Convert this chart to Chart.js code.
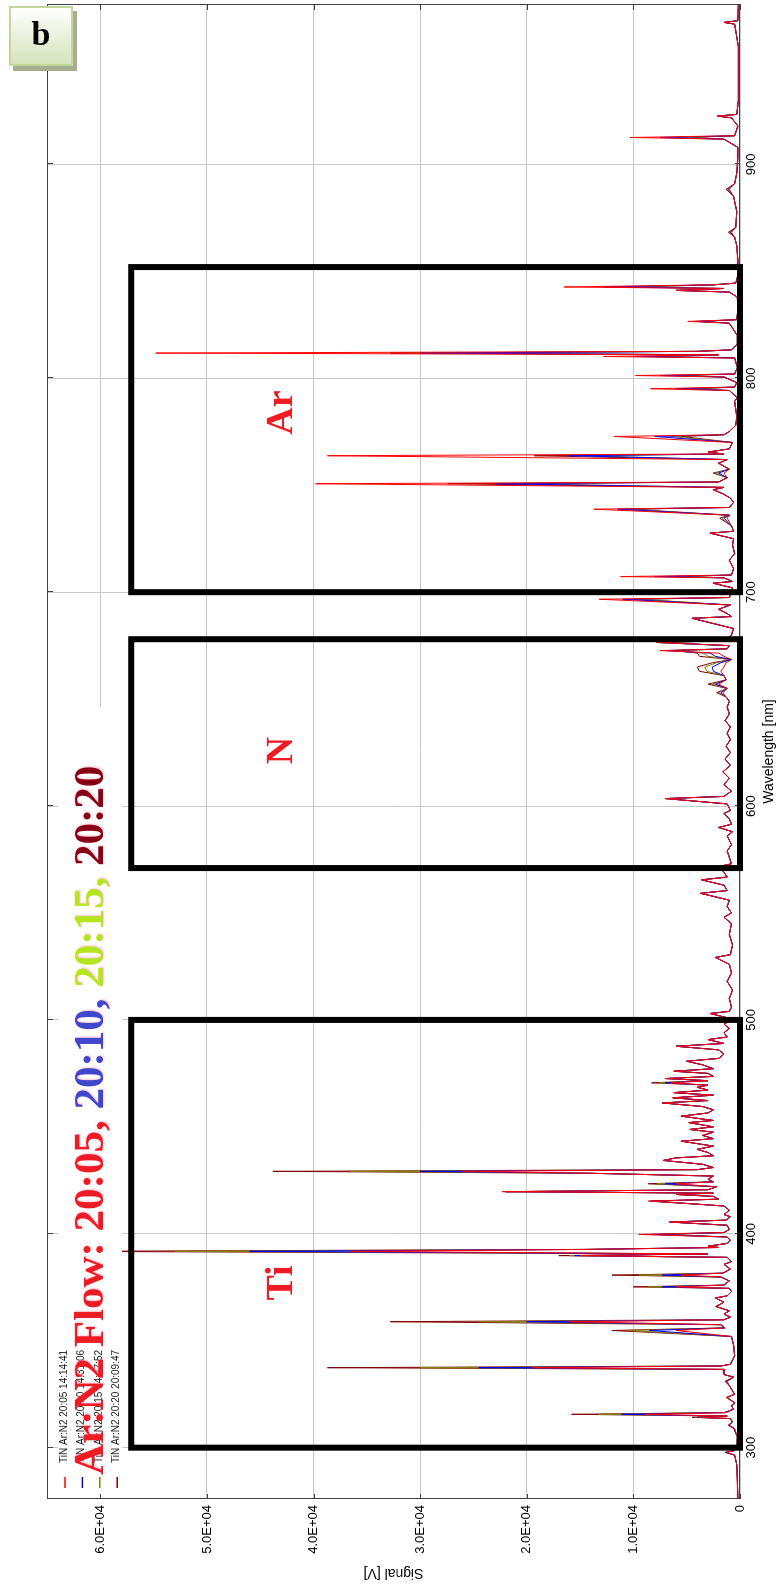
<!DOCTYPE html>
<html>
<head>
<meta charset="utf-8">
<script src="https://cdn.jsdelivr.net/npm/chart.js@4.4.1/dist/chart.umd.min.js"></script>
<style>
  html, body { margin: 0; padding: 0; background: #fff; }
  #page { position: relative; width: 779px; height: 1586px; overflow: hidden; background: #fff; }
  /* the spectrum is drawn the normal way and turned a quarter left, like the figure */
  #turn { position: absolute; left: 0; top: 0; width: 1586px; height: 779px;
          transform-origin: 0 0; transform: translateY(1586px) rotate(-90deg); }
  #tag { position: absolute; left: 9px; top: 6px; width: 60px; height: 56px;
         border: 2px solid #c4d79b; background: linear-gradient(#ffffff, #d6e3bc);
         box-shadow: 4px 5px 0 #a9ad8f; text-align: center;
         font: bold 34px "Liberation Serif", "Times New Roman", serif; line-height: 52px; color: #000; }
</style>
</head>
<body>
<div id="page">
  <div id="turn"><canvas id="spectrum" width="1586" height="779"></canvas></div>
  <div id="tag">b</div>
</div>
<script>
// wavelength [nm], shared by all four runs
const wavelength = [
  276, 285, 292, 296.5, 297.8, 298.6, 300,
  305, 309, 310.5, 312, 313.6, 314.2, 314.8, 315.6, 316.4, 318, 319.5, 321, 323.5, 325, 329, 331, 333, 334.2, 336.6, 337.4, 338.2, 339,
  343, 348, 352, 354.8, 356, 357.5, 358.9, 359.8, 361, 362.5, 364, 366, 368, 370, 371, 373, 374.5, 375.2, 376, 378, 379.8, 380.7, 381.6, 383.5, 385.7, 387, 389, 389.8, 390.6, 391.8, 392.7, 393.6, 394.2, 395.5, 397, 398.5, 399.7,
  400.6, 402, 404, 405.5, 406.4, 408, 409, 411, 413, 415.3, 416.2, 417.5, 418.4, 419, 419.7, 420.6, 422, 423.4, 424.3, 425.5, 427, 428.3, 429.2, 430, 431, 432.5, 434.3, 435.5, 436.5, 438, 439.5,
  441, 443.3, 444.5, 446, 447.5, 448.8, 450, 452, 453, 455, 456.5, 458, 459.5, 461.2, 462.3, 463.6, 464.8, 466, 467.2, 468.5, 469.5, 470.6, 471.6, 472.6, 473.6, 475, 476, 477.2, 479, 480.7, 482, 484, 486, 487.7, 489, 490.8, 492, 494, 496, 498, 499.5,
  501, 503, 504, 506, 510, 514, 518, 522, 526, 529.2, 530.5, 535, 540, 545, 548, 550, 553, 556, 559.2, 560.5, 563, 565.5, 566.8, 569, 571.7,
  573, 576, 579, 582, 586, 588, 590, 591.5, 594, 596.5, 598, 601, 603.5, 604.5, 607, 610, 613, 616, 619, 622, 625, 628, 631, 634, 637, 640, 643, 646.3, 649, 651,
  653, 655, 657, 659, 661, 663, 665, 667, 668.5, 670, 671.5, 672.7, 673.5, 675, 676.5, 677.3, 680, 683, 687.8, 688.6, 690, 692, 694, 696.7, 697.5, 700,
  702, 704.2, 705, 706.7, 707.3, 708, 711, 715, 718, 722, 725, 727.6, 728.5, 731, 734.6, 736, 738.8, 739.6, 742, 744, 746, 747.9, 749, 750.7, 751.5, 753.5, 755.7, 757.5, 760.3, 762, 763.8, 764.6, 765.5, 767, 770, 772.8, 773.6, 775.1, 778,
  782, 789.2, 791, 794.3, 795.1, 795.9, 798, 800.6, 801.3, 802, 805, 809.5, 810.2, 811, 811.8, 812.6, 813.3, 816, 820, 825.8, 826.6, 827.4, 832, 838, 840.3, 841.1, 842, 842.7, 843.7, 844.5, 848, 855, 862, 866, 868.3, 870.5, 878, 885, 888.4, 891, 896, 903, 908, 911.8, 912.6, 913.4, 918, 921.8, 922.6, 923.4, 930, 945, 955, 965.6, 966.4, 967.2, 975
];

// signal [V] for Ar:N2 20:05 (red)
const flow2005 = [
  200, 250, 300, 500, 1200, 600, 300,
  250, 500, 1000, 700, 900, 3800, 1200, 8900, 1300, 600, 800, 500, 1200, 500, 1000, 1200, 600, 1500, 1400, 19500, 1800, 900,
  500, 600, 800, 6000, 1400, 1800, 16000, 1500, 900, 1500, 1000, 2200, 1500, 2300, 1200, 800, 1000, 6000, 1500, 1000, 1800, 5500, 1600, 900, 1500, 800, 1200, 15000, 3000, 36500, 14200, 2000, 3000, 1200, 900, 1200, 9500,
  1500, 1000, 1200, 6600, 1300, 900, 1500, 1000, 1500, 8600, 2000, 2500, 6000, 2500, 22300, 3000, 2200, 6000, 2500, 3000, 2500, 14000, 26000, 4000, 2500, 3500, 7200, 6000, 2500, 3000, 4000,
  2500, 5500, 2500, 3500, 2500, 4700, 2500, 4800, 2500, 5500, 3000, 2500, 3500, 7300, 3000, 6300, 2500, 6200, 3000, 4000, 3000, 6500, 3000, 7000, 2500, 3000, 6200, 2500, 3500, 5000, 2000, 1500, 2000, 6000, 1500, 3000, 1200, 1500, 1000, 1500, 1000,
  1200, 2800, 1000, 800, 1000, 700, 1200, 800, 1000, 2300, 900, 700, 1000, 800, 1500, 800, 1200, 1000, 3700, 1200, 1500, 3600, 1200, 1500, 2000,
  800, 1000, 1200, 800, 1200, 700, 2000, 800, 1000, 1500, 900, 1200, 7000, 1500, 800, 1500, 1000, 1600, 900, 1400, 900, 1300, 900, 1200, 900, 1400, 1000, 1200, 1000, 1300,
  1600, 1200, 2000, 1300, 1500, 1800, 1500, 1300, 800, 1500, 2000, 7500, 1200, 1000, 7800, 1200, 800, 600, 4500, 800, 1200, 2000, 900, 13200, 1000, 800,
  700, 2500, 700, 1500, 11200, 800, 600, 1000, 500, 700, 600, 2800, 600, 800, 1200, 1000, 13700, 1000, 600, 900, 1600, 2500, 1500, 39800, 2000, 1200, 1500, 1000, 2000, 1200, 38700, 1500, 3000, 1000, 700, 11800, 1500, 1000, 400,
  300, 500, 250, 1000, 8400, 500, 300, 1500, 9800, 500, 250, 500, 12800, 2000, 54800, 4000, 800, 250, 250, 1000, 4900, 300, 200, 250, 1000, 6000, 1500, 16500, 2500, 400, 200, 200, 300, 500, 800, 400, 300, 600, 1000, 500, 300, 200, 200, 1500, 10300, 500, 200, 800, 2100, 300, 150, 150, 150, 500, 1500, 200, 150
];

// signal [V] for Ar:N2 20:10 (blue)
const flow2010 = [
  200, 250, 300, 500, 1300, 600, 300,
  250, 550, 1050, 700, 900, 4000, 1200, 11100, 1400, 600, 800, 500, 1200, 500, 1000, 1300, 600, 1500, 1500, 24500, 1800, 900,
  500, 600, 800, 8500, 1400, 1800, 20000, 1500, 900, 1500, 1000, 2200, 1500, 2300, 1200, 800, 1000, 7300, 1500, 1000, 1800, 7300, 1600, 900, 1500, 800, 1200, 15500, 3000, 46000, 14200, 2000, 3000, 1200, 900, 1200, 8500,
  1500, 1000, 1200, 6600, 1300, 900, 1500, 1000, 1500, 8400, 2000, 2500, 6000, 2500, 22000, 3000, 2200, 7000, 2500, 3000, 2500, 14000, 30000, 4000, 2500, 3500, 7200, 6000, 2500, 3000, 4000,
  2500, 5500, 2500, 3500, 2500, 4700, 2500, 4800, 2500, 5500, 3000, 2500, 3500, 7300, 3000, 6300, 2500, 6200, 3000, 4000, 3000, 7000, 3000, 7000, 2500, 3000, 6200, 2500, 3500, 5000, 2000, 1500, 2000, 6000, 1500, 3000, 1200, 1500, 1000, 1500, 1000,
  1200, 2800, 1000, 800, 1000, 700, 1200, 800, 1000, 2300, 900, 700, 1000, 800, 1500, 800, 1200, 1000, 3700, 1200, 1500, 3600, 1200, 1500, 2000,
  800, 1000, 1200, 800, 1200, 700, 2000, 800, 1000, 1500, 900, 1200, 7000, 1500, 800, 1500, 1000, 1600, 900, 1400, 900, 1300, 900, 1200, 900, 1400, 1000, 1200, 1000, 1300,
  1800, 1200, 2300, 1300, 1500, 2500, 2600, 1800, 800, 2300, 2800, 7000, 1200, 1000, 7800, 1200, 800, 600, 4500, 800, 1200, 2000, 900, 11000, 1000, 800,
  700, 2500, 700, 1500, 8000, 800, 600, 1000, 500, 700, 600, 2800, 600, 800, 1500, 1000, 11500, 1000, 600, 900, 1600, 2500, 1500, 22900, 2000, 1200, 2000, 1000, 2000, 1200, 16000, 1500, 3000, 1000, 700, 8000, 1500, 1000, 400,
  300, 500, 250, 1000, 6000, 500, 300, 1500, 7500, 500, 250, 500, 10000, 2000, 30000, 4000, 800, 250, 250, 1000, 4200, 300, 200, 250, 1000, 6000, 1500, 12800, 2500, 400, 200, 200, 300, 500, 900, 400, 300, 600, 1100, 500, 300, 200, 200, 1500, 7500, 500, 200, 800, 2100, 300, 150, 150, 150, 500, 1500, 200, 150
];

// signal [V] for Ar:N2 20:15 (olive)
const flow2015 = [
  200, 250, 300, 500, 1300, 600, 300,
  250, 550, 1100, 700, 900, 4200, 1200, 13300, 1400, 600, 800, 500, 1300, 500, 1000, 1300, 600, 1500, 1500, 30000, 1800, 900,
  500, 600, 800, 10500, 1400, 1800, 24500, 1500, 900, 1500, 1000, 2300, 1500, 2300, 1200, 800, 1000, 8600, 1500, 1000, 1800, 9500, 1600, 900, 1500, 800, 1200, 16000, 3000, 53000, 14500, 2000, 3000, 1200, 900, 1200, 7800,
  1500, 1000, 1200, 6600, 1300, 900, 1500, 1000, 1500, 8200, 2000, 2500, 6000, 2500, 21800, 3000, 2200, 7800, 2500, 3000, 2500, 14000, 36500, 4000, 2500, 3500, 7200, 6000, 2500, 3000, 4000,
  2500, 5500, 2500, 3500, 2500, 4700, 2500, 4800, 2500, 5500, 3000, 2500, 3500, 7300, 3000, 6300, 2500, 6200, 3000, 4000, 3000, 7600, 3000, 7000, 2500, 3000, 6200, 2500, 3500, 5000, 2000, 1500, 2000, 6000, 1500, 3000, 1200, 1500, 1000, 1500, 1000,
  1200, 2800, 1000, 800, 1000, 700, 1200, 800, 1000, 2300, 900, 700, 1000, 800, 1500, 800, 1200, 1000, 3700, 1200, 1500, 3600, 1200, 1500, 2000,
  800, 1000, 1200, 800, 1200, 700, 2000, 800, 1000, 1500, 900, 1200, 7000, 1500, 800, 1500, 1000, 1600, 900, 1400, 900, 1300, 900, 1200, 900, 1400, 1000, 1200, 1000, 1300,
  2000, 1200, 2600, 1300, 1500, 3100, 3300, 2200, 800, 3000, 3400, 6500, 1200, 1000, 7800, 1200, 800, 600, 4500, 800, 1200, 2000, 900, 10000, 1000, 800,
  700, 2500, 700, 1500, 6500, 800, 600, 1000, 500, 700, 600, 2800, 600, 800, 1700, 1000, 10800, 1000, 600, 900, 1600, 2500, 1500, 20500, 2000, 1200, 2300, 1000, 2000, 1200, 15000, 1500, 3000, 1000, 700, 6500, 1500, 1000, 400,
  300, 500, 250, 1000, 5000, 500, 300, 1500, 6500, 500, 250, 500, 9000, 2000, 31000, 4000, 800, 250, 250, 1000, 4000, 300, 200, 250, 1000, 6000, 1500, 11000, 2500, 400, 200, 200, 300, 500, 1000, 400, 300, 600, 1200, 500, 300, 200, 200, 1500, 6000, 500, 200, 800, 2100, 300, 150, 150, 150, 500, 1500, 200, 150
];

// signal [V] for Ar:N2 20:20 (dark red)
const flow2020 = [
  200, 250, 300, 500, 1400, 600, 300,
  250, 600, 1100, 700, 900, 4500, 1200, 15800, 1500, 600, 800, 500, 1300, 500, 1000, 1400, 600, 1500, 1600, 38700, 1800, 900,
  500, 600, 800, 12000, 1400, 1800, 32800, 1500, 900, 1500, 1000, 2300, 1500, 2300, 1200, 800, 1000, 10000, 1500, 1000, 1800, 12000, 1600, 900, 1500, 800, 1200, 17000, 3000, 63900, 14800, 2000, 3000, 1200, 900, 1200, 6700,
  1500, 1000, 1200, 6600, 1300, 900, 1500, 1000, 1500, 8000, 2000, 2500, 6000, 2500, 22000, 3000, 2200, 8600, 2500, 3000, 2500, 14000, 43800, 4000, 2500, 3500, 7200, 6000, 2500, 3000, 4000,
  2500, 5500, 2500, 3500, 2500, 4700, 2500, 4800, 2500, 5500, 3000, 2500, 3500, 7300, 3000, 6300, 2500, 6200, 3000, 4000, 3000, 8300, 3000, 7000, 2500, 3000, 6200, 2500, 3500, 5000, 2000, 1500, 2000, 6000, 1500, 3000, 1200, 1500, 1000, 1500, 1000,
  1200, 2800, 1000, 800, 1000, 700, 1200, 800, 1000, 2300, 900, 700, 1000, 800, 1500, 800, 1200, 1000, 3700, 1200, 1500, 3600, 1200, 1500, 2000,
  800, 1000, 1200, 800, 1200, 700, 2000, 800, 1000, 1500, 900, 1200, 7000, 1500, 800, 1500, 1000, 1600, 900, 1400, 900, 1300, 900, 1200, 900, 1400, 1000, 1200, 1000, 1300,
  2200, 1200, 3000, 1300, 1500, 3800, 4000, 2600, 800, 3800, 4000, 6000, 1200, 1000, 7800, 1200, 800, 600, 4500, 800, 1200, 2000, 900, 9500, 1000, 800,
  700, 2500, 700, 1500, 5500, 800, 600, 1000, 500, 700, 600, 2800, 600, 800, 1900, 1000, 10300, 1000, 600, 900, 1600, 2500, 1500, 27400, 2000, 1200, 2500, 1000, 2000, 1200, 19300, 1500, 3000, 1000, 700, 5500, 1500, 1000, 400,
  300, 500, 250, 1000, 4000, 500, 300, 1500, 5500, 500, 250, 500, 8000, 2000, 32800, 4000, 800, 250, 250, 1000, 3700, 300, 200, 250, 1000, 6000, 1500, 10000, 2500, 400, 200, 200, 300, 500, 1100, 400, 300, 600, 1300, 500, 300, 200, 200, 1500, 4500, 500, 200, 800, 2100, 300, 150, 150, 150, 500, 1500, 200, 150
];

const seriesNames = ['TiN Ar:N2 20:05 14:14:41', 'TiN Ar:N2 20:10 14:31:06', 'TiN Ar:N2 20:15 14:47:52', 'TiN Ar:N2 20:20 20:09:47'];
const seriesColors = ['#ff0000', '#0000ff', '#808000', '#800000'];

const wavelengthTicks = [300, 400, 500, 600, 700, 800, 900];
const signalTicks = [0, 10000, 20000, 30000, 40000, 50000, 60000];

// marked regions
const elements = ['Ti', 'N', 'Ar'];
const boxStart = [300, 571, 700];
const boxEnd = [500, 678, 852];
const boxHeight = 57100;
const elementAt = [377, 626, 784];
const elementSignal = 42000;

const headParts = ['Ar:N2 Flow: 20:05, ', '20:10, ', '20:15, ', '20:20'];
const headColors = ['#ed1c24', '#3f48cc', '#b5e61d', '#880015'];

Chart.defaults.font.family = '"Liberation Sans", Arial, sans-serif';
Chart.defaults.color = '#000';

function expLabel(value) {
    if (value === 0) return '0';
    return value.toExponential(1).toUpperCase().replace(/E\+(\d)$/, 'E+0$1');
}

const overlay = {
    id: 'overlay',
    afterDatasetsDraw(chart) {
        const { ctx, chartArea: a } = chart;
        const x = chart.scales.x;
        const y = chart.scales.y;
        ctx.save();

        // frame with small inward ticks
        ctx.strokeStyle = '#404040';
        ctx.lineWidth = 1;
        ctx.strokeRect(a.left + 0.5, a.top + 0.5, a.width - 1, a.height - 1);
        ctx.beginPath();
        wavelengthTicks.forEach(t => {
            const px = Math.round(x.getPixelForValue(t)) + 0.5;
            ctx.moveTo(px, a.top); ctx.lineTo(px, a.top + 6);
            ctx.moveTo(px, a.bottom); ctx.lineTo(px, a.bottom - 5);
        });
        signalTicks.forEach(t => {
            const py = Math.round(y.getPixelForValue(t)) + 0.5;
            ctx.moveTo(a.left, py); ctx.lineTo(a.left + 5, py);
            ctx.moveTo(a.right, py); ctx.lineTo(a.right - 6, py);
        });
        ctx.stroke();

        // element boxes and names
        ctx.strokeStyle = '#000';
        ctx.lineWidth = 6;
        for (let i = 0; i < elements.length; i++) {
            const left = x.getPixelForValue(boxStart[i]);
            const right = x.getPixelForValue(boxEnd[i]);
            const top = y.getPixelForValue(boxHeight);
            const bottom = y.getPixelForValue(0);
            ctx.strokeRect(left, top, right - left, bottom - top);
        }
        ctx.fillStyle = '#ed1c24';
        ctx.font = 'bold 38px "Liberation Serif", "Times New Roman", serif';
        ctx.textAlign = 'center';
        ctx.textBaseline = 'alphabetic';
        for (let i = 0; i < elements.length; i++) {
            ctx.fillText(elements[i], x.getPixelForValue(elementAt[i]), y.getPixelForValue(elementSignal));
        }

        // legend
        ctx.fillStyle = '#fff';
        ctx.fillRect(a.left + 5, a.top + 11, 787, 64);
        chart.data.datasets.forEach((ds, i) => {
            const v = a.top + 18 + i * 17.4;
            ctx.strokeStyle = ds.borderColor;
            ctx.lineWidth = 1.5;
            ctx.beginPath();
            ctx.moveTo(a.left + 11, v);
            ctx.lineTo(a.left + 22, v);
            ctx.stroke();
            ctx.fillStyle = '#222';
            ctx.font = '10px "Liberation Sans", Arial, sans-serif';
            ctx.textAlign = 'left';
            ctx.textBaseline = 'middle';
            ctx.fillText(ds.label, a.left + 36, v - 1);
        });

        // headline, with the soft glow of the original
        ctx.font = 'bold 43px "Liberation Serif", "Times New Roman", serif';
        ctx.textBaseline = 'alphabetic';
        ctx.textAlign = 'left';
        ctx.shadowColor = 'rgba(255, 140, 170, 0.55)';
        ctx.shadowBlur = 2;
        ctx.shadowOffsetX = 1;
        ctx.shadowOffsetY = 1;
        let u = a.left + 24;
        headParts.forEach((t, i) => {
            ctx.fillStyle = headColors[i];
            ctx.fillText(t, u, a.top + 56);
            u += ctx.measureText(t).width;
        });
        ctx.restore();
    }
};

const runs = [flow2005, flow2010, flow2015, flow2020];

new Chart(document.getElementById('spectrum'), {
    type: 'line',
    data: {
        datasets: runs.map((run, i) => ({
            label: seriesNames[i],
            data: wavelength.map((w, k) => ({ x: w, y: run[k] })),
            borderColor: seriesColors[i],
            borderWidth: 1,
            pointRadius: 0,
            tension: 0,
            fill: false
        }))
    },
    options: {
        responsive: false,
        animation: false,
        devicePixelRatio: 1,
        layout: { padding: { left: 0, right: 4, top: 47, bottom: 0 } },
        plugins: { legend: { display: false }, tooltip: { enabled: false } },
        scales: {
            x: {
                type: 'linear',
                min: 276,
                max: 975,
                afterBuildTicks: s => { s.ticks = wavelengthTicks.map(v => ({ value: v })); },
                afterFit: s => { s.height = 39; },
                grid: { color: '#c8c8c8', drawTicks: false },
                border: { display: false },
                ticks: { padding: 4, maxRotation: 0, autoSkip: false, font: { size: 13 }, color: '#000' },
                title: { display: true, text: 'Wavelength [nm]', font: { size: 14 }, color: '#000', padding: { top: 0, bottom: 1 } }
            },
            y: {
                type: 'linear',
                min: 0,
                max: 65000,
                afterBuildTicks: s => { s.ticks = signalTicks.map(v => ({ value: v })); },
                afterFit: s => { s.width = 87; },
                grid: { color: '#c8c8c8', drawTicks: false },
                border: { display: false },
                ticks: { padding: 6, font: { size: 13 }, color: '#000', callback: v => expLabel(v) },
                title: { display: true, text: 'Signal [V]', font: { size: 14 }, color: '#000', padding: { top: 5, bottom: 0 } }
            }
        }
    },
    plugins: [overlay]
});
</script>
</body>
</html>
